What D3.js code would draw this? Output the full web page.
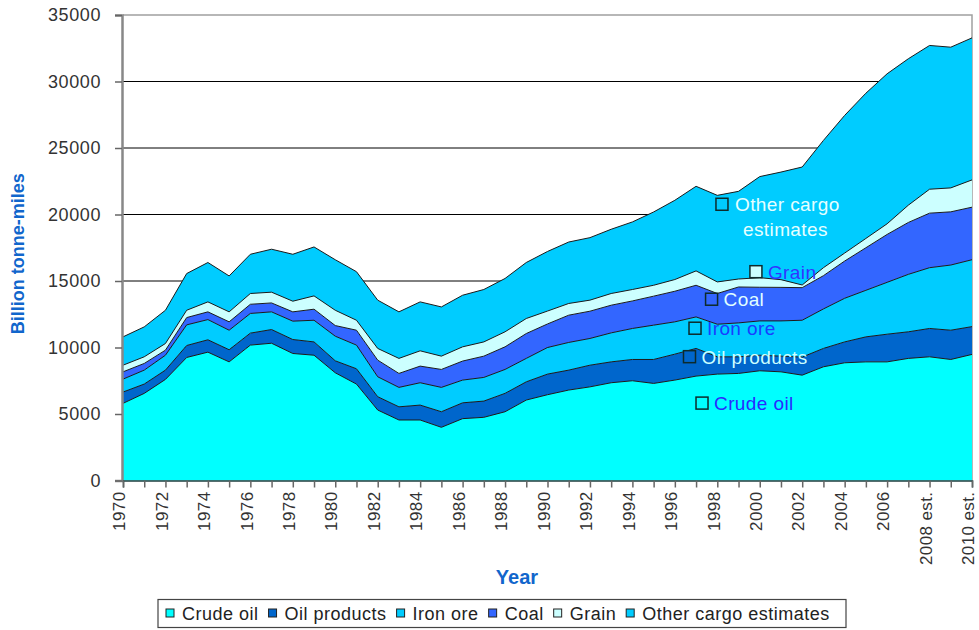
<!DOCTYPE html>
<html>
<head>
<meta charset="utf-8">
<script src="https://cdn.jsdelivr.net/npm/d3@7/dist/d3.min.js"></script>
<style>
  body { margin: 0; background: #fff; }
  svg text { font-family: Arial, "Liberation Sans", sans-serif; }
</style>
</head>
<body>
<svg id="chart" width="979" height="630"></svg>
<script>
// categories (one per year, labels shown every other year)
const years = ["1970","1971","1972","1973","1974","1975","1976","1977","1978","1979",
  "1980","1981","1982","1983","1984","1985","1986","1987","1988","1989",
  "1990","1991","1992","1993","1994","1995","1996","1997","1998","1999",
  "2000","2001","2002","2003","2004","2005","2006","2007","2008 est.","2009 est.","2010 est."];

// billion tonne-miles
const crudeOil = [5800,6550,7600,9250,9650,8920,10180,10320,9550,9420,
  8100,7250,5300,4550,4550,4000,4650,4750,5170,6050,
  6450,6800,7040,7350,7500,7300,7550,7850,8000,8050,
  8250,8170,7920,8550,8850,8920,8920,9180,9300,9100,9480];
const oilProducts = [850,700,700,900,930,910,900,1030,1050,1000,
  900,1150,1000,990,1120,1170,1190,1220,1380,1370,
  1550,1500,1630,1570,1600,1800,1950,2080,1300,1250,
  1170,1180,1360,1380,1570,1880,2080,2000,2130,2200,2090];
const ironOre = [970,1050,1120,1550,1520,1470,1480,1330,1380,1630,
  1850,1780,1500,1460,1680,1830,1710,1780,1800,1760,
  2000,2080,2010,2180,2330,2580,2430,2370,2450,2550,
  2580,2650,2770,2970,3280,3500,3900,4320,4570,4900,5030];
const coal = [550,500,380,550,580,630,690,670,700,830,
  800,1120,1250,1050,1250,1350,1430,1600,1700,1870,
  1770,2050,2050,2080,2070,2180,2300,2380,2310,2700,
  2530,2520,2450,2500,2800,3200,3600,3900,4100,4000,3950];
const grain = [500,500,500,550,750,750,810,810,800,1000,
  1150,750,880,1130,1150,1000,1070,1070,1130,1130,
  970,880,830,880,860,820,880,1080,870,600,
  720,580,200,600,600,700,800,1300,1800,1800,2050];
const otherCargo = [2130,2250,2500,2760,2960,2700,2950,3230,3530,3680,
  3800,3650,3630,3500,3680,3700,3880,3940,4010,4210,
  4480,4620,4700,4830,5080,5510,5960,6360,6510,6590,
  7600,8090,8870,9570,10350,10920,11280,11010,10810,10580,10680];

const seriesNames = ["Crude oil","Oil products","Iron ore","Coal","Grain","Other cargo estimates"];
const seriesColors = ["#00ffff","#0066cc","#00ccff","#3366ff","#ccffff","#00ccff"];
const yTicks = [0,5000,10000,15000,20000,25000,30000,35000];

const rows = years.map((yr, i) => ({
  year: yr,
  "Crude oil": crudeOil[i],
  "Oil products": oilProducts[i],
  "Iron ore": ironOre[i],
  "Coal": coal[i],
  "Grain": grain[i],
  "Other cargo estimates": otherCargo[i]
}));

const svg = d3.select("#chart");
const plotLeft = 123, plotRight = 972, plotTop = 15, plotBottom = 480.5;

const x = d3.scalePoint().domain(years).range([plotLeft, plotRight]);
const y = d3.scaleLinear().domain([0, 35000]).range([plotBottom, plotTop]);

// gridlines
svg.append("g")
  .selectAll("line")
  .data(yTicks.filter(d => d > 0 && d < 35000))
  .enter().append("line")
  .attr("x1", plotLeft).attr("x2", plotRight)
  .attr("y1", d => y(d)).attr("y2", d => y(d))
  .attr("stroke", "#000").attr("stroke-width", 1);

// plot frame (top + right)
svg.append("path")
  .attr("d", `M${plotLeft},${y(35000)}H${plotRight}V${plotBottom}`)
  .attr("fill", "none").attr("stroke", "#a0a0a0").attr("stroke-width", 1.5);

const stack = d3.stack().keys(seriesNames);
const layers = stack(rows);

const area = d3.area()
  .x(d => x(d.data.year))
  .y0(d => y(d[0]))
  .y1(d => y(d[1]));

const topLine = d3.line()
  .x(d => x(d.data.year))
  .y(d => y(d[1]));

svg.append("g").selectAll("path")
  .data(layers)
  .enter().append("path")
  .attr("d", area)
  .attr("fill", (d, i) => seriesColors[i]);

svg.append("g").selectAll("path")
  .data(layers)
  .enter().append("path")
  .attr("d", topLine)
  .attr("fill", "none")
  .attr("stroke", "#1a1a1a")
  .attr("stroke-width", 1);

// y axis
const yAxis = svg.append("g")
  .attr("transform", `translate(${plotLeft - 1},0)`)
  .call(d3.axisLeft(y).tickValues(yTicks).tickSize(7).tickPadding(14).tickFormat(d3.format("d")));
yAxis.select(".domain").attr("stroke", "#888").attr("stroke-width", 2.5);
yAxis.selectAll(".tick line").attr("stroke", "#666").attr("stroke-width", 1.5);
yAxis.selectAll("text")
  .attr("font-size", 18).attr("fill", "#333")
  .style("font-family", "Arial, 'Liberation Sans', sans-serif")
  .attr("letter-spacing", 0.6);

// x axis
const xAxis = svg.append("g")
  .attr("transform", `translate(0,${plotBottom})`)
  .call(d3.axisBottom(x).tickSize(7).tickFormat((d, i) => i % 2 === 0 ? d : ""));
xAxis.select(".domain").attr("stroke", "#1f3f3f").attr("stroke-width", 1.5);
xAxis.selectAll(".tick line").attr("stroke", "#666").attr("stroke-width", 1.5);
xAxis.selectAll("text")
  .attr("font-size", 17).attr("fill", "#333")
  .style("font-family", "Arial, 'Liberation Sans', sans-serif")
  .attr("letter-spacing", 0.4)
  .attr("text-anchor", "end")
  .attr("transform", "rotate(-90)")
  .attr("x", -11).attr("y", 0).attr("dy", "0.1em");

// axis titles
svg.append("text")
  .attr("transform", `translate(24,${(plotTop + plotBottom) / 2 + 6}) rotate(-90)`)
  .attr("text-anchor", "middle")
  .attr("font-size", 18).attr("font-weight", "bold")
  .attr("fill", "#1166cc")
  .text("Billion tonne-miles");

svg.append("text")
  .attr("x", 517).attr("y", 584)
  .attr("text-anchor", "middle")
  .attr("font-size", 20).attr("font-weight", "bold")
  .attr("fill", "#1166cc")
  .text("Year");

// in-chart series labels (anchored to data coordinates)
const labelYearPos = [27.28, 26.69, 26.95, 27.73, 29.82, 28.22];
const labelValues = [5820, 9310, 11450, 13630, 15700, 20770];
const labelTextColors = ["#2a2aff", "#ccffff", "#1a3cff", "#e0ffff", "#3333ff", "#e6ffff"];
const step = x.step();

const inLabels = svg.append("g");
seriesNames.forEach((name, i) => {
  const cx = plotLeft + labelYearPos[i] * step;
  const cy = y(labelValues[i]);
  inLabels.append("rect")
    .attr("x", cx - 6).attr("y", cy - 6)
    .attr("width", 12).attr("height", 12)
    .attr("fill", seriesColors[i])
    .attr("stroke", "#0d2b2b").attr("stroke-width", 1.5);
  const t = inLabels.append("text")
    .attr("x", cx + 12).attr("y", cy + 7)
    .attr("font-size", 19)
    .attr("letter-spacing", 0.4)
    .attr("fill", labelTextColors[i]);
  if (name === "Other cargo estimates") {
    t.append("tspan").attr("x", cx + 13).text("Other cargo");
    t.append("tspan").attr("x", cx + 21).attr("dy", 25).text("estimates");
  } else {
    t.text(name);
  }
});

// legend
const legend = svg.append("g");
legend.append("rect")
  .attr("x", 158).attr("y", 599.5)
  .attr("width", 688).attr("height", 28)
  .attr("fill", "#fff").attr("stroke", "#444").attr("stroke-width", 1.2);

let lx = 166;
seriesNames.forEach((name, i) => {
  legend.append("rect")
    .attr("x", lx).attr("y", 609)
    .attr("width", 8).attr("height", 8)
    .attr("fill", seriesColors[i])
    .attr("stroke", "#222").attr("stroke-width", 1);
  const t = legend.append("text")
    .attr("x", lx + 16).attr("y", 620)
    .attr("font-size", 18).attr("fill", "#222")
    .attr("letter-spacing", 0.5)
    .text(name);
  lx = lx + 16 + t.node().getComputedTextLength() + 10;
});
</script>
</body>
</html>
